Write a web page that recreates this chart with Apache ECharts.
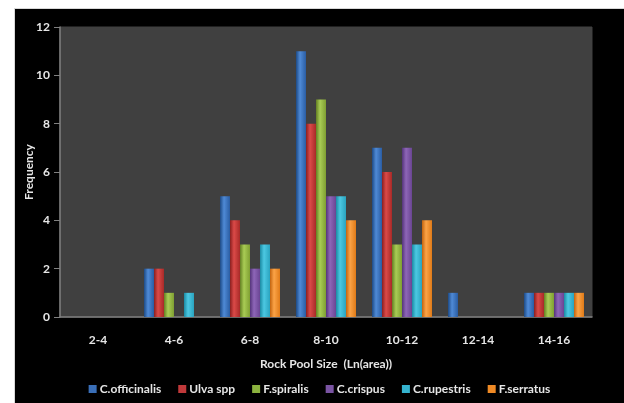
<!DOCTYPE html>
<html><head><meta charset="utf-8">
<script src="https://cdn.jsdelivr.net/npm/echarts@6/dist/echarts.min.js"></script>
<style>
html,body{margin:0;padding:0;background:#fff;width:624px;height:403px;overflow:hidden}
#frame{position:absolute;left:14px;top:8px;width:610px;height:395px;border-left:1px solid #d8d8d8;border-top:1px solid #d8d8d8;background:#000}
#c{position:absolute;left:0;top:0;width:609px;height:394px}
</style></head>
<body><div id="frame"><div id="c"></div></div>
<script>
const categories = ['2-4','4-6','6-8','8-10','10-12','12-14','14-16'];
const seriesNames = ['C.officinalis','Ulva spp','F.spiralis','C.crispus','C.rupestris','F.serratus'];
const cOfficinalis = [0,2,5,11,7,1,1];
const ulvaSpp      = [0,2,4,8,6,0,1];
const fSpiralis    = [0,1,3,9,3,0,1];
const cCrispus     = [0,0,2,5,7,0,1];
const cRupestris   = [0,1,3,5,3,0,1];
const fSerratus    = [0,0,2,4,4,0,1];
const yTicks = [0,2,4,6,8,10,12];

const values = [cOfficinalis, ulvaSpp, fSpiralis, cCrispus, cRupestris, fSerratus];
const palette = [
  ['#1d4a85','#4f8ad6','#2a5da3'],
  ['#8a1f1f','#db4a48','#a82a28'],
  ['#637f22','#a9cc55','#7f9f32'],
  ['#54347a','#8e66b8','#6a4593'],
  ['#1b8aa3','#4cc8e2','#2aa3bf'],
  ['#c2630e','#fba347','#e07b18']
];
const legendColors = ['#3a6fb8','#c0393a','#8cb33f','#7a54a3','#35b3cf','#ef8a25'];

const chart = echarts.init(document.getElementById('c'));
const txt = '#e6e6e6';
const font = 'Lato';
const fs = 12;
chart.setOption({
  animation:false,
  backgroundColor:'#000',
  textStyle:{fontFamily:font},
  grid:{left:45,right:32,top:18,bottom:86,outerBoundsMode:'none',containLabel:false,
    show:true,backgroundColor:'#404040',borderColor:'#404040',borderWidth:1},
  legend:{
    bottom:3, left:'center',
    itemWidth:8,itemHeight:8,itemGap:17,
    icon:'rect',
    textStyle:{color:txt,fontSize:fs,fontWeight:'bold',fontFamily:font,padding:[0,0,0,-2]},
    data:seriesNames.map((n,i)=>({name:n,itemStyle:{color:legendColors[i]}}))
  },
  xAxis:{
    type:'category',data:categories,
    axisLine:{show:true,lineStyle:{color:'#808080',width:1.5}},
    axisTick:{show:false},
    axisLabel:{color:txt,fontSize:fs,fontWeight:'bold',margin:17},
    name:'Rock Pool Size  (Ln(area))',nameLocation:'middle',nameGap:41,nameMoveOverlap:false,
    nameTextStyle:{color:txt,fontSize:fs,fontWeight:'bold'}
  },
  yAxis:{
    type:'value',min:0,max:12,interval:2,
    axisLine:{show:true,lineStyle:{color:'#808080',width:1.5}},
    axisTick:{show:true,length:6,lineStyle:{color:'#808080'}},
    splitLine:{show:false},
    axisLabel:{color:txt,fontSize:fs,fontWeight:'bold',margin:10,
      formatter:v=>yTicks.includes(v)?String(v):''},
    name:'Frequency',nameLocation:'middle',nameGap:25,nameMoveOverlap:false,
    nameTextStyle:{color:txt,fontSize:fs,fontWeight:'bold'}
  },
  series:values.map((d,i)=>({
    name:seriesNames[i],type:'bar',data:d,barWidth:10,barGap:'0%',
    itemStyle:{color:new echarts.graphic.LinearGradient(0,0,1,0,[
      {offset:0,color:palette[i][0]},
      {offset:0.4,color:palette[i][1]},
      {offset:1,color:palette[i][2]}
    ])}
  }))
});
</script></body></html>
